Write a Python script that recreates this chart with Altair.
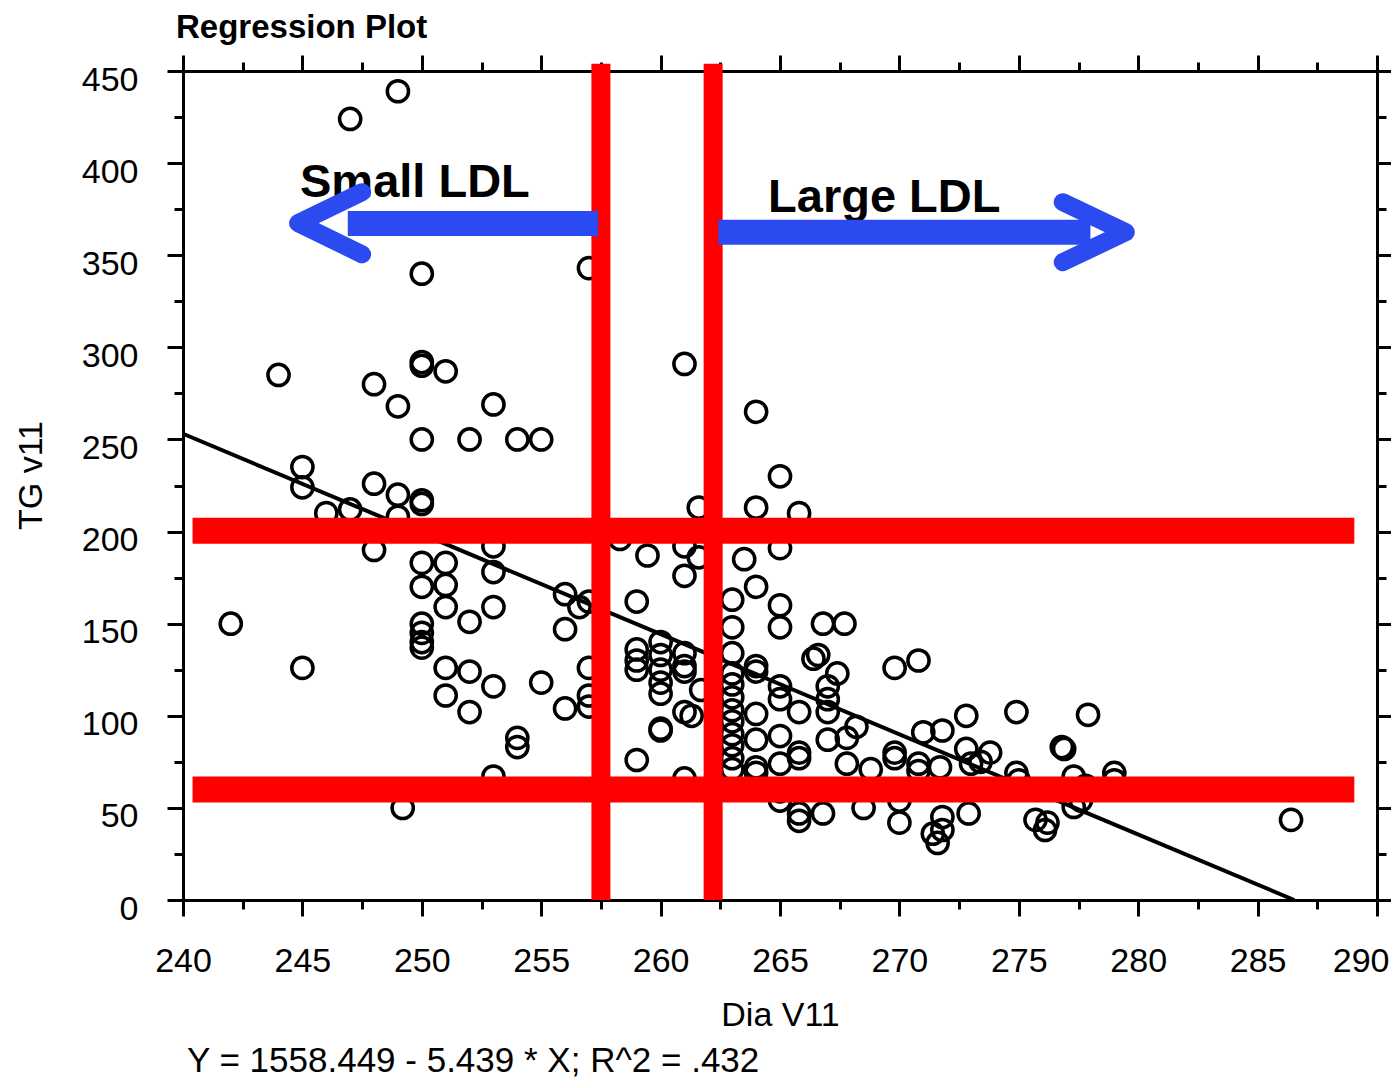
import altair as alt
import pandas as pd

FONT = "Liberation Sans"

# ---------------- scatter data (Dia V11 vs TG v11) ----------------
dia_v11 = [
    242, 244, 245, 245, 245, 246, 247, 247, 248, 248, 248, 249, 249, 249, 249, 249.2,
    250, 250, 250, 250, 250, 250, 250, 250, 250, 250, 250, 250,
    251, 251, 251, 251, 251, 251, 252, 252, 252, 252, 253, 253, 253, 253, 253, 253,
    254, 254, 254, 255, 255, 256, 256, 256, 256.6, 257, 257, 257, 257, 257, 258.3,
    259, 259.45, 259, 259, 259, 259, 260, 260, 260, 260, 260, 260, 260,
    261, 261, 261, 261, 261, 261, 261, 261, 261.3, 261.6, 261.6, 261.7,
    263, 263, 263, 263, 263, 263, 263, 263, 263, 263, 263, 263,
    263.5, 264, 264, 264, 264, 264, 264, 264, 264, 264,
    265, 265, 265, 265, 265, 265, 265, 265, 265, 265,
    265.8, 265.8, 265.8, 265.8, 265.8, 265.8, 266.4, 266.6, 266.8, 266.8, 267, 267,
    267, 267, 267.4, 267.7, 267.8, 267.8, 268.2, 268, 268.5, 268.8,
    269.8, 269.8, 269.8, 270, 270, 270, 270.8, 270.8, 270.8, 271, 271.4, 271.6,
    271.7, 271.8, 271.8, 271.8, 272.8, 272.8, 272.9, 273, 273.4, 273.8,
    274.9, 274.9, 275, 275.7, 276.1, 276.2, 276.8, 276.9, 277.3, 277.3, 277.6, 277.8,
    277.9, 279, 279, 286.4,
]
tg_v11 = [
    150, 285, 126, 235, 224, 210, 424, 212, 280, 226, 190, 439, 268, 220, 208, 50,
    340, 292, 290, 250, 217, 215, 183, 170, 150, 145, 140, 137,
    287, 183, 171, 159, 126, 111, 250, 151, 124, 102, 269, 192, 178, 159, 116, 67,
    250, 88, 83, 250, 118, 166, 147, 104, 159, 343, 162, 126, 111, 105, 196,
    162, 187, 136, 130, 125, 76, 140, 133, 125, 118, 112, 93, 92,
    291, 192, 176, 134, 127, 124, 102, 66, 100, 213, 186, 114,
    163, 148, 134, 123, 117, 110, 103, 97, 90, 84, 77, 71,
    185, 265, 213, 170, 127, 124, 101, 87, 72, 69,
    230, 191, 160, 148, 116, 109, 89, 74, 59, 54,
    210, 102, 80, 77, 47, 43, 131, 133, 150, 47, 116, 109,
    102, 87, 123, 150, 88, 74, 94, 60, 50, 71,
    126, 80, 77, 60, 54, 42, 130, 74, 70, 91, 36, 31,
    72, 92, 45, 38, 100, 82, 47, 74, 75, 80,
    102, 69, 65, 43.5, 38, 42, 83, 82, 67, 50.5, 54, 62,
    100.5, 69, 65, 43.5,
]

# regression: Y = 1558.449 - 5.439 * X
reg_intercept = 1558.449
reg_slope = -5.439
reg_dia = [240, -reg_intercept / reg_slope]
reg_tg = [reg_intercept + reg_slope * v for v in reg_dia]

# red cut-off lines
cut_dia = [257.5, 262.2]
cut_dia_span = [0, 454]
cut_tg = [200.5, 60]
cut_tg_span = [240.4, 289.05]

# blue arrows
shaft_from = [257.39, 262.42]
shaft_to = [246.9, 278.0]
shaft_tg = [367.2, 362.5]
head_dia = [247.5, 244.82, 247.5, 276.84, 279.48, 276.84]
head_tg = [384.2, 367.4, 350.5, 378.8, 362.5, 346.2]
head_id = ["L", "L", "L", "R", "R", "R"]
head_ord = [0, 1, 2, 0, 1, 2]

# annotations
ann_text = ["Small LDL", "Large LDL"]
ann_dia = [244.9, 264.5]
ann_tg = [381.5, 373.4]

x_ticks = [240 + 2.5 * i for i in range(21)]
y_ticks = [25 * i for i in range(19)]

xs = alt.Scale(domain=[240, 290], nice=False, zero=False)
ys = alt.Scale(domain=[0, 450], nice=False, zero=False)

RED = "#FF0000"
BLUE = "#2B4AF0"


def tsize(step, big, small):
    return {"condition": {"test": f"datum.value % {step} === 0", "value": big}, "value": small}


common = dict(domainColor="black", domainWidth=3, tickColor="black", tickWidth=3, grid=False,
              labelFont=FONT, labelFontSize=34, labelColor="black", titleFont=FONT,
              titleFontSize=34, titleFontWeight="normal", titleColor="black",
              labelOverlap=False, labelFlush=False)

ax_bottom = alt.Axis(orient="bottom", values=x_ticks,
                     labelExpr="datum.value % 5 === 0 ? datum.label : ''",
                     labelAlign={"condition": {"test": "datum.value === 290", "value": "right"},
                                 "value": "center"},
                     labelOffset={"condition": {"test": "datum.value === 290", "value": 12},
                                  "value": 0},
                     tickSize=tsize(5, 16, 9), labelPadding=28, title="Dia V11",
                     titlePadding=20, **common)
ax_left = alt.Axis(orient="left", values=y_ticks,
                   labelExpr="datum.value % 50 === 0 ? datum.label : ''",
                   tickSize=tsize(50, 16, 9), labelPadding=29, labelOffset=9,
                   title="TG v11", titlePadding=33, titleY=404, **common)
ax_top = alt.Axis(orient="top", values=x_ticks, labels=False, title=None,
                  tickSize=tsize(5, 16, 9), **common)
ax_right = alt.Axis(orient="right", values=y_ticks, labels=False, title=None,
                    tickSize=tsize(50, 16, 9), **common)

pts = pd.DataFrame({"dia": dia_v11, "tg": tg_v11})
scatter = alt.Chart(pts).mark_point(
    shape="circle", filled=False, color="black", strokeWidth=3.5, size=450, opacity=1
).encode(
    x=alt.X("dia:Q", scale=xs, axis=ax_bottom),
    y=alt.Y("tg:Q", scale=ys, axis=ax_left),
)

reg = alt.Chart(pd.DataFrame({"dia": reg_dia, "tg": reg_tg})).mark_line(
    color="black", strokeWidth=4
).encode(
    x=alt.X("dia:Q", scale=xs, axis=ax_top),
    y=alt.Y("tg:Q", scale=ys, axis=ax_right),
)

vcut = alt.Chart(pd.DataFrame({"dia": cut_dia, "lo": [cut_dia_span[0]] * 2,
                               "hi": [cut_dia_span[1]] * 2})).mark_rule(
    color=RED, strokeWidth=19, strokeCap="butt"
).encode(
    x=alt.X("dia:Q", scale=xs, axis=None),
    y=alt.Y("lo:Q", scale=ys, axis=None),
    y2="hi:Q",
)

hcut = alt.Chart(pd.DataFrame({"tg": cut_tg, "lo": [cut_tg_span[0]] * 2,
                               "hi": [cut_tg_span[1]] * 2})).mark_rule(
    color=RED, strokeWidth=26, strokeCap="butt"
).encode(
    y=alt.Y("tg:Q", scale=ys, axis=None),
    x=alt.X("lo:Q", scale=xs, axis=None),
    x2="hi:Q",
)

ann = alt.Chart(pd.DataFrame({"t": ann_text, "dia": ann_dia, "tg": ann_tg})).mark_text(
    font=FONT, fontSize=47, fontWeight="bold", align="left", baseline="alphabetic",
    color="black"
).encode(
    x=alt.X("dia:Q", scale=xs, axis=None),
    y=alt.Y("tg:Q", scale=ys, axis=None),
    text="t:N",
)

shafts = alt.Chart(pd.DataFrame({"a": shaft_from, "b": shaft_to, "tg": shaft_tg})).mark_rule(
    color=BLUE, strokeWidth=25, strokeCap="butt"
).encode(
    x=alt.X("a:Q", scale=xs, axis=None),
    x2="b:Q",
    y=alt.Y("tg:Q", scale=ys, axis=None),
)

heads = alt.Chart(pd.DataFrame({"dia": head_dia, "tg": head_tg, "id": head_id,
                                "o": head_ord})).mark_line(
    color=BLUE, strokeWidth=18, strokeCap="round", strokeJoin="round"
).encode(
    x=alt.X("dia:Q", scale=xs, axis=None),
    y=alt.Y("tg:Q", scale=ys, axis=None),
    detail="id:N",
    order="o:Q",
)

title = alt.Chart(pd.DataFrame({"t": ["Regression Plot"]})).mark_text(
    font=FONT, fontSize=33, fontWeight="bold", align="left", baseline="alphabetic",
    color="black"
).encode(text="t:N", x=alt.value(-7), y=alt.value(-33))

footer = alt.Chart(pd.DataFrame({"t": ["Y = 1558.449 - 5.439 * X; R^2 = .432"]})).mark_text(
    font=FONT, fontSize=35, align="left", baseline="alphabetic", color="black"
).encode(text="t:N", x=alt.value(4), y=alt.value(1001))

chart = alt.layer(
    scatter, reg, vcut, hcut, ann, shafts, heads, title, footer
).resolve_axis(
    x="independent", y="independent"
).properties(
    width=1194, height=829,
    padding={"left": 175, "top": 63, "right": 14, "bottom": 180},
    autosize=alt.AutoSizeParams(type="none"),
    background="white",
).configure_view(stroke=None)

chart.save("out.html", embed_options={"renderer": "svg", "actions": False})
